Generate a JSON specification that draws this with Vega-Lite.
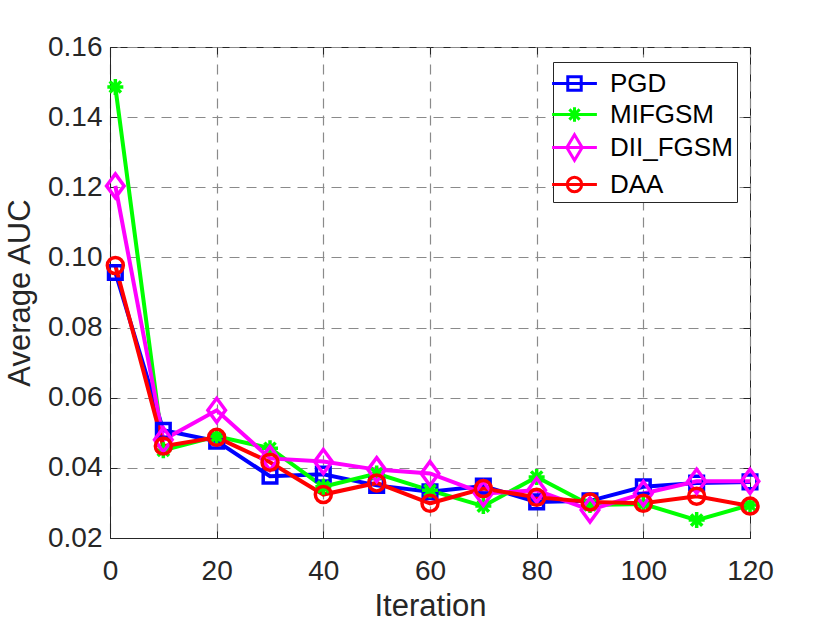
{
  "$schema": "https://vega.github.io/schema/vega-lite/v6.json",
  "autosize": {"type": "none"},
  "width": 640,
  "height": 491,
  "padding": {"left": 110, "top": 47, "right": 80, "bottom": 85},
  "background": "white",
  "config": {
    "font": "Liberation Sans",
    "view": {"stroke": "#262626", "strokeWidth": 1},
    "axis": {
      "labelFont": "Liberation Sans",
      "titleFont": "Liberation Sans",
      "labelColor": "#262626",
      "titleColor": "#262626",
      "domainColor": "#262626",
      "tickColor": "#262626",
      "labelFontSize": 28,
      "titleFontSize": 31,
      "titleFontWeight": "normal",
      "labelFlush": false,
      "gridColor": "#8a8a8a",
      "gridDash": [10, 7],
      "gridWidth": 1.2,
      "gridOpacity": 1
    },
    "legend": {
      "strokeColor": "#262626",
      "fillColor": "white",
      "padding": 4,
      "rowPadding": 0,
      "labelFont": "Liberation Sans",
      "labelFontSize": 26,
      "labelColor": "#000000",
      "labelOffset": 18,
      "symbolSize": 1024,
      "symbolStrokeWidth": 3,
      "symbolOpacity": 1,
      "symbolFillColor": "transparent"
    }
  },
  "data": {
    "values": [
      {"iter": 1, "method": "PGD", "auc": 0.0957},
      {"iter": 10, "method": "PGD", "auc": 0.0507},
      {"iter": 20, "method": "PGD", "auc": 0.0476},
      {"iter": 30, "method": "PGD", "auc": 0.0376},
      {"iter": 40, "method": "PGD", "auc": 0.0382},
      {"iter": 50, "method": "PGD", "auc": 0.0350},
      {"iter": 60, "method": "PGD", "auc": 0.0332},
      {"iter": 70, "method": "PGD", "auc": 0.0348},
      {"iter": 80, "method": "PGD", "auc": 0.0303},
      {"iter": 90, "method": "PGD", "auc": 0.0306},
      {"iter": 100, "method": "PGD", "auc": 0.0346},
      {"iter": 110, "method": "PGD", "auc": 0.0357},
      {"iter": 120, "method": "PGD", "auc": 0.0360},
      {"iter": 1, "method": "MIFGSM", "auc": 0.1486},
      {"iter": 10, "method": "MIFGSM", "auc": 0.0450},
      {"iter": 20, "method": "MIFGSM", "auc": 0.0490},
      {"iter": 30, "method": "MIFGSM", "auc": 0.0456},
      {"iter": 40, "method": "MIFGSM", "auc": 0.0346},
      {"iter": 50, "method": "MIFGSM", "auc": 0.0384},
      {"iter": 60, "method": "MIFGSM", "auc": 0.0336},
      {"iter": 70, "method": "MIFGSM", "auc": 0.0291},
      {"iter": 80, "method": "MIFGSM", "auc": 0.0374},
      {"iter": 90, "method": "MIFGSM", "auc": 0.0294},
      {"iter": 100, "method": "MIFGSM", "auc": 0.0297},
      {"iter": 110, "method": "MIFGSM", "auc": 0.0251},
      {"iter": 120, "method": "MIFGSM", "auc": 0.0294},
      {"iter": 1, "method": "DII_FGSM", "auc": 0.1204},
      {"iter": 10, "method": "DII_FGSM", "auc": 0.0480},
      {"iter": 20, "method": "DII_FGSM", "auc": 0.0564},
      {"iter": 30, "method": "DII_FGSM", "auc": 0.0427},
      {"iter": 40, "method": "DII_FGSM", "auc": 0.0418},
      {"iter": 50, "method": "DII_FGSM", "auc": 0.0395},
      {"iter": 60, "method": "DII_FGSM", "auc": 0.0384},
      {"iter": 70, "method": "DII_FGSM", "auc": 0.0327},
      {"iter": 80, "method": "DII_FGSM", "auc": 0.0336},
      {"iter": 90, "method": "DII_FGSM", "auc": 0.0280},
      {"iter": 100, "method": "DII_FGSM", "auc": 0.0327},
      {"iter": 110, "method": "DII_FGSM", "auc": 0.0362},
      {"iter": 120, "method": "DII_FGSM", "auc": 0.0362},
      {"iter": 1, "method": "DAA", "auc": 0.0977},
      {"iter": 10, "method": "DAA", "auc": 0.0462},
      {"iter": 20, "method": "DAA", "auc": 0.0487},
      {"iter": 30, "method": "DAA", "auc": 0.0416},
      {"iter": 40, "method": "DAA", "auc": 0.0324},
      {"iter": 50, "method": "DAA", "auc": 0.0357},
      {"iter": 60, "method": "DAA", "auc": 0.0299},
      {"iter": 70, "method": "DAA", "auc": 0.0341},
      {"iter": 80, "method": "DAA", "auc": 0.0316},
      {"iter": 90, "method": "DAA", "auc": 0.0303},
      {"iter": 100, "method": "DAA", "auc": 0.0299},
      {"iter": 110, "method": "DAA", "auc": 0.0319},
      {"iter": 120, "method": "DAA", "auc": 0.0291}
    ]
  },
  "layer": [
    {
      "mark": {"type": "point", "opacity": 0},
      "encoding": {
        "x": {
          "field": "iter", "type": "quantitative",
          "scale": {"domain": [0, 120], "nice": false},
          "axis": {"orient": "top", "labels": false, "title": null, "grid": false,
                   "values": [0, 20, 40, 60, 80, 100, 120], "tickSize": -7, "domain": false}
        },
        "y": {
          "field": "auc", "type": "quantitative",
          "scale": {"domain": [0.02, 0.16], "nice": false, "zero": false},
          "axis": {"orient": "right", "labels": false, "title": null, "grid": false,
                   "values": [0.02, 0.04, 0.06, 0.08, 0.1, 0.12, 0.14, 0.16], "tickSize": -7, "domain": false}
        }
      }
    },
    {
      "encoding": {
        "x": {
          "field": "iter", "type": "quantitative",
          "scale": {"domain": [0, 120], "nice": false},
          "axis": {"values": [0, 20, 40, 60, 80, 100, 120], "title": "Iteration",
                   "tickSize": -7, "labelPadding": 26, "titlePadding": 6, "grid": true}
        },
        "y": {
          "field": "auc", "type": "quantitative",
          "scale": {"domain": [0.02, 0.16], "nice": false, "zero": false},
          "axis": {"values": [0.02, 0.04, 0.06, 0.08, 0.1, 0.12, 0.14, 0.16], "format": ".2f",
                   "title": "Average AUC", "tickSize": -7, "labelPadding": 15, "titlePadding": 11, "grid": true}
        }
      },
      "layer": [
        {
          "mark": {"type": "line", "strokeWidth": 4},
          "encoding": {
            "color": {
              "field": "method", "type": "nominal",
              "scale": {"domain": ["PGD", "MIFGSM", "DII_FGSM", "DAA"],
                        "range": ["#0000ff", "#00ff00", "#ff00ff", "#ff0000"]},
              "legend": {"title": null, "orient": "none", "legendX": 443, "legendY": 15, "direction": "vertical"}
            }
          }
        },
        {
          "mark": {"type": "point", "filled": false, "opacity": 0},
          "encoding": {
            "color": {"field": "method", "type": "nominal",
                      "legend": {"title": null, "orient": "none", "legendX": 443, "legendY": 15, "direction": "vertical"}},
            "shape": {
              "field": "method", "type": "nominal",
              "scale": {"domain": ["PGD", "MIFGSM", "DII_FGSM", "DAA"],
                        "range": ["M-1.4,0H1.4M-0.42,-0.42H0.42V0.42H-0.42Z",
                                  "M-1.4,0H1.4M0,-0.45V0.45M-0.32,-0.32L0.32,0.32M-0.32,0.32L0.32,-0.32",
                                  "M-1.4,0H1.4M0,-0.8L0.48,0L0,0.8L-0.48,0Z",
                                  "M-1.4,0H1.4M-0.45,0A0.45,0.45 0 1,0 0.45,0A0.45,0.45 0 1,0 -0.45,0"]},
              "legend": {"title": null, "orient": "none", "legendX": 443, "legendY": 15, "direction": "vertical"}
            }
          }
        },
        {
          "transform": [{"filter": "datum.method === 'PGD'"}],
          "mark": {"type": "point", "filled": false, "strokeWidth": 3.5, "size": 256, "opacity": 1,
                   "color": "#0000ff", "shape": "M-0.85,-0.85H0.85V0.85H-0.85Z"}
        },
        {
          "transform": [{"filter": "datum.method === 'MIFGSM'"}],
          "mark": {"type": "point", "filled": false, "strokeWidth": 3.5, "size": 256, "opacity": 1,
                   "color": "#00ff00", "shape": "M0,-1V1M-1,0H1M-0.7,-0.7L0.7,0.7M-0.7,0.7L0.7,-0.7"}
        },
        {
          "transform": [{"filter": "datum.method === 'DII_FGSM'"}],
          "mark": {"type": "point", "filled": false, "strokeWidth": 3.5, "size": 256, "opacity": 1,
                   "color": "#ff00ff", "shape": "M0,-1.5L1.1,0L0,1.5L-1.1,0Z"}
        },
        {
          "transform": [{"filter": "datum.method === 'DAA'"}],
          "mark": {"type": "point", "filled": false, "strokeWidth": 3.5, "size": 256, "opacity": 1,
                   "color": "#ff0000", "shape": "circle"}
        }
      ]
    }
  ],
  "resolve": {"scale": {"x": "independent", "y": "independent"}}
}
